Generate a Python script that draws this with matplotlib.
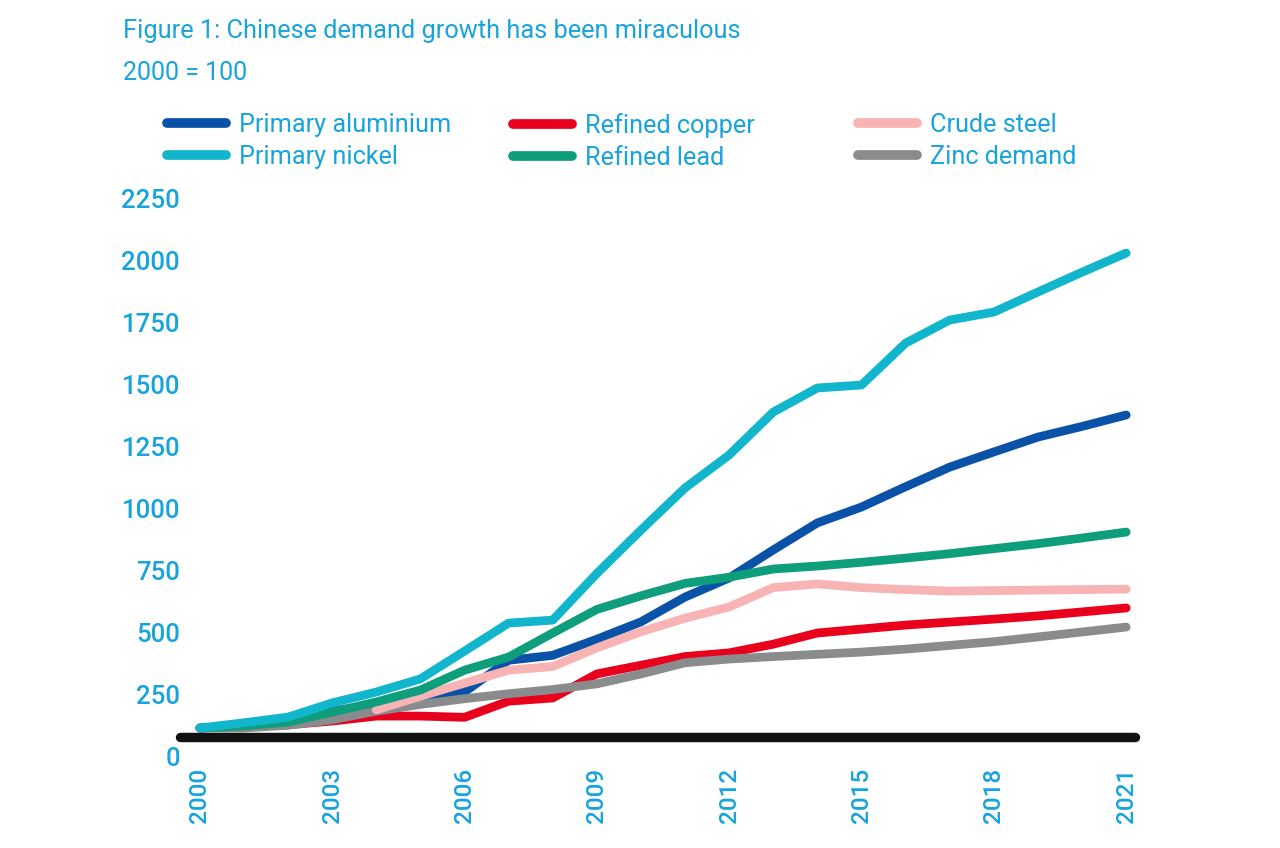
import matplotlib
matplotlib.use("Agg")
import matplotlib.pyplot as plt
from matplotlib.lines import Line2D
import numpy as np

plt.rcParams['font.family'] = ['Roboto', 'Liberation Sans', 'DejaVu Sans']

years = list(range(2000, 2022))
aluminium = [117, 128, 145, 185, 212, 235, 262, 390, 410, 475, 545, 645, 722, 835, 944, 1008, 1090, 1169, 1230, 1290, 1333, 1379]
nickel = [117, 138, 161, 218, 262, 315, 427, 540, 552, 740, 915, 1085, 1218, 1391, 1488, 1500, 1669, 1762, 1794, 1875, 1955, 2032]
copper = [117, 122, 130, 145, 165, 165, 160, 225, 238, 335, 370, 405, 420, 455, 500, 516, 532, 544, 556, 569, 585, 601]
lead = [117, 125, 141, 181, 222, 270, 350, 403, 500, 595, 650, 700, 725, 758, 770, 785, 802, 820, 840, 860, 883, 907]
steel = [np.nan, np.nan, np.nan, np.nan, 190, 245, 298, 350, 365, 440, 505, 560, 605, 683, 698, 683, 675, 669, 671, 673, 675, 677]
zinc = [117, 117, 128, 150, 185, 212, 235, 255, 272, 295, 335, 380, 395, 405, 414, 423, 435, 450, 465, 484, 504, 524]
baseline = 80

yticks = [0, 250, 500, 750, 1000, 1250, 1500, 1750, 2000, 2250]
xticks = [2000, 2003, 2006, 2009, 2012, 2015, 2018, 2021]

title = "Figure 1: Chinese demand growth has been miraculous"
subtitle = "2000 = 100"

C_AL = "#0a52a8"
C_NI = "#12b6cc"
C_CU = "#e8001c"
C_PB = "#0f9e7b"
C_ST = "#f8b4b4"
C_ZN = "#8a8b8d"
TXT = "#17a3dc"

W, H = 1280, 848
fig = plt.figure(figsize=(12.8, 8.48), dpi=100)
ax = fig.add_axes([180 / W, 1 - 757 / H, (1135 - 180) / W, (757 - 199) / H])

lw = 6.3
series = [
    (steel, C_ST, "Crude steel", 5),
    (copper, C_CU, "Refined copper", 2),
    (aluminium, C_AL, "Primary aluminium", 3),
    (zinc, C_ZN, "Zinc demand", 4),
    (lead, C_PB, "Refined lead", 6),
    (nickel, C_NI, "Primary nickel", 7),
]
for vals, col, lab, z in series:
    ax.plot(years, vals, color=col, lw=lw, solid_capstyle='round',
            solid_joinstyle='round', zorder=z)

ax.axhline(baseline, color="#111111", lw=6.8, solid_capstyle='round',
           zorder=8, clip_on=False)

ax.set_xlim(1999.55, 2021.2)
ax.set_ylim(0, 2250)
ax.set_yticks(yticks)
ax.set_xticks(xticks)
ax.set_xticklabels([str(x) for x in xticks], rotation=90, va='top', ha='center')
ax.tick_params(axis='both', length=0, colors=TXT)
ax.tick_params(axis='y', labelsize=18.5, pad=0)
ax.tick_params(axis='x', labelsize=17.5, pad=8)
for lab in ax.get_xticklabels() + ax.get_yticklabels():
    lab.set_fontweight('medium')
for s in ax.spines.values():
    s.set_visible(False)

fig.text(123 / W, 1 - 31 / H, title, color=TXT, fontsize=18.3, va='center',
         ha='left')
fig.text(123 / W, 1 - 73 / H, subtitle, color=TXT, fontsize=18, va='center',
         ha='left')

cols = [
    [("Primary aluminium", C_AL), ("Primary nickel", C_NI)],
    [("Refined copper", C_CU), ("Refined lead", C_PB)],
    [("Crude steel", C_ST), ("Zinc demand", C_ZN)],
]
xs = [167, 513, 858]
for (entries, x0) in zip(cols, xs):
    handles = [Line2D([0], [0], color=c, lw=7, solid_capstyle='round') for _, c in entries]
    labels = [l for l, _ in entries]
    leg = fig.legend(handles, labels, loc='upper left',
                     bbox_to_anchor=(x0 / W, 1 - 113 / H), frameon=False,
                     prop={'size': 18.2},
                     handlelength=2.35, handletextpad=0.5,
                     borderpad=0, borderaxespad=0, labelspacing=0.3)
    for t in leg.get_texts():
        t.set_color(TXT)

fig.savefig("out.png", dpi=100, facecolor="white")
